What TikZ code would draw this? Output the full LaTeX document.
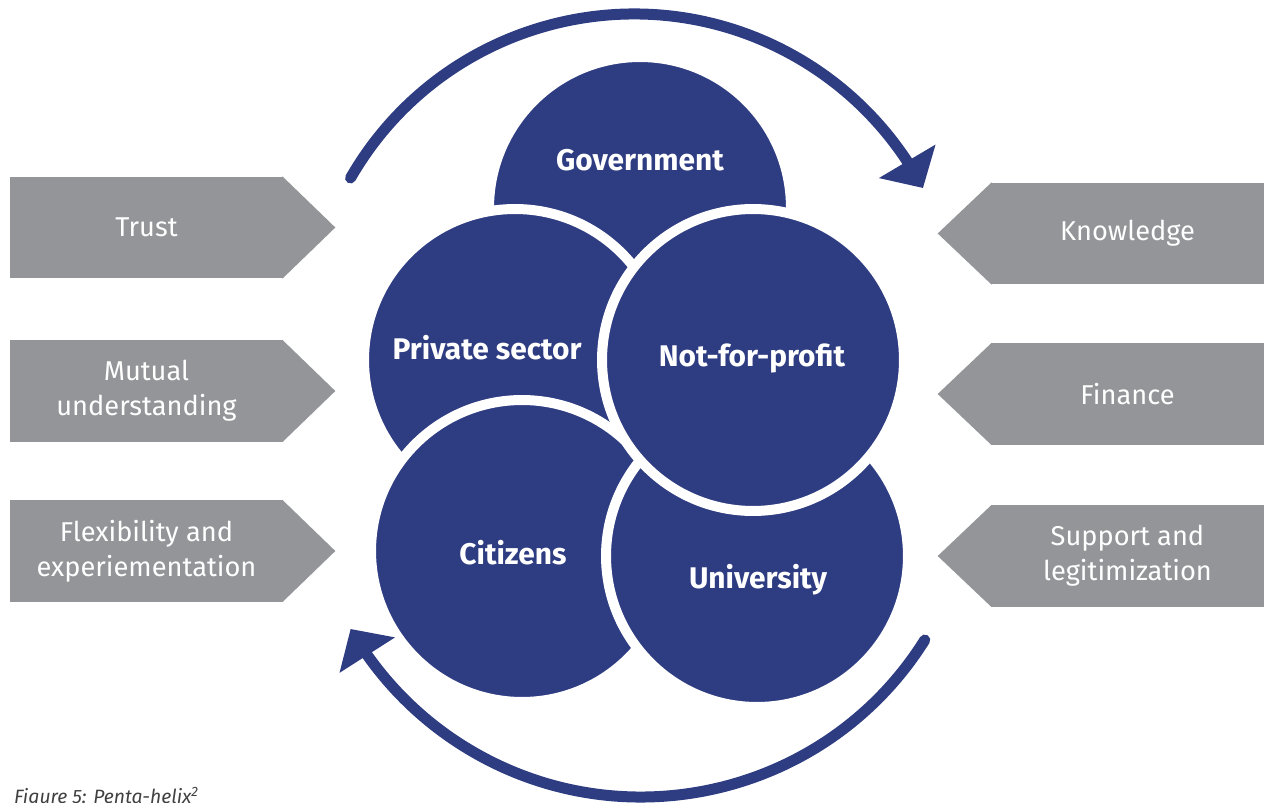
\documentclass[tikz,border=0pt]{standalone}
\usepackage{fontspec}
\setmainfont{Fira Sans}
\usetikzlibrary{arrows.meta,bending}
\definecolor{helixblue}{RGB}{46,60,130}
\definecolor{helixgray}{RGB}{147,149,152}

\begin{document}
\begin{tikzpicture}[
    x=0.02cm, y=-0.02cm,
    disc/.style={circle, fill=helixblue, draw=white, line width=0.2cm, minimum size=6.04cm, inner sep=0pt},
    disc label/.style={text=white, font=\fontsize{17}{20}\selectfont\bfseries},
    tag/.style={fill=helixgray, text=white, minimum width=5.46cm, minimum height=2.03cm, inner sep=0pt, align=center, font=\fontsize{15.5}{19.8}\selectfont},
    loop arrow/.style={helixblue, line width=0.22cm, line cap=round, -{Triangle[length=0.62cm,width=1.28cm]}},
  ]
  \useasboundingbox (0,0) rectangle (1270,803);

  \node[disc] (gov) at (640,208) {};
  \node[disc] (priv) at (515,360) {};
  \node[disc] (cit) at (522,551) {};
  \node[disc] (uni) at (757,556) {};
  \node[disc] (nfp) at (753,360) {};
  \node[disc label] (gov text) at (640,160) {Government};
  \node[disc label] (priv text) at (487,348) {Private sector};
  \node[disc label] (nfp text) at (752,358) {Not-for-profit};
  \node[disc label] (cit text) at (513,553) {Citizens};
  \node[disc label] (uni text) at (758,580) {University};

  \node[tag] (trust) at (146.5,227.5) {Trust};
  \node[tag] (mutual) at (146.5,391) {Mutual\\understanding};
  \node[tag] (flex) at (146.5,551) {Flexibility and\\experiementation};
  \node[tag] (know) at (1127.5,233.5) {Knowledge};
  \node[tag] (fin) at (1127.5,394) {Finance};
  \node[tag] (supp) at (1127.5,556) {Support and\\legitimization};
  \foreach \t in {trust,mutual,flex}
    \fill[helixgray] ([xshift=-0.5pt]\t.north east) -- ([xshift=1.04cm]\t.east) -- ([xshift=-0.5pt]\t.south east) -- cycle;
  \foreach \t in {know,fin,supp}
    \fill[helixgray] ([xshift=0.5pt]\t.north west) -- ([xshift=-1.06cm]\t.west) -- ([xshift=0.5pt]\t.south west) -- cycle;

  \coordinate (top c) at (634,341);
  \coordinate (bottom c) at (641,462);
  \draw[loop arrow] ([shift={(-150.1:327)}]top c) arc[start angle=-150.1, end angle=-27.9, radius=327];
  \draw[loop arrow] ([shift={(32.1:335)}]bottom c) arc[start angle=32.1, end angle=150.1, radius=335];

  \node[anchor=base west, text=black!75, font=\fontsize{11}{13}\selectfont\itshape] (caption) at (8,803) {Figure 5: Penta-helix\textsuperscript{2}};
\end{tikzpicture}
\end{document}
